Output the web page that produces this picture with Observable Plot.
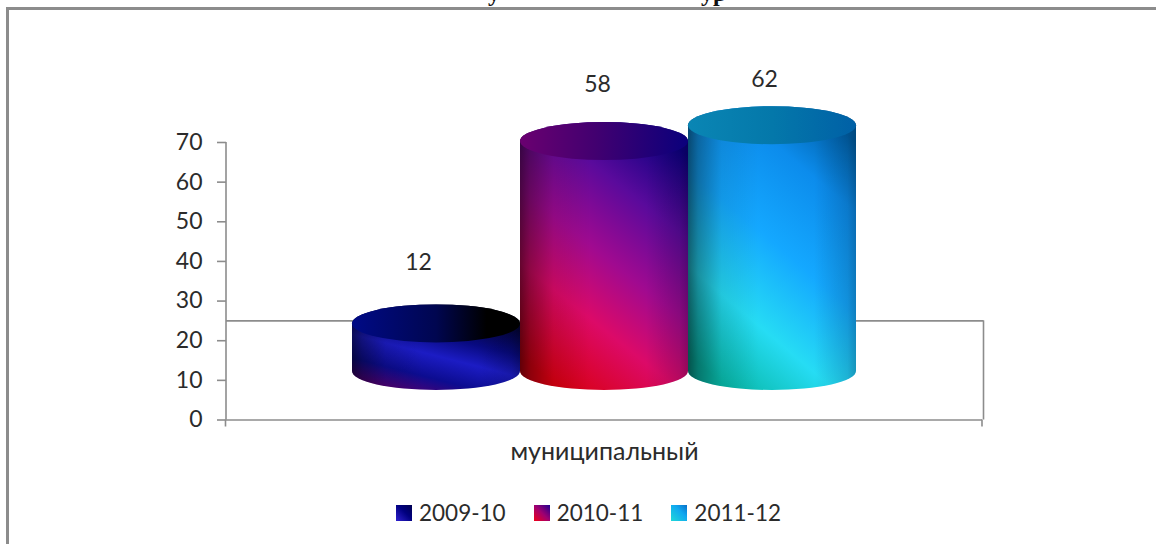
<!DOCTYPE html>
<html><head><meta charset="utf-8">
<script src="https://cdn.jsdelivr.net/npm/d3@7"></script>
<script src="https://cdn.jsdelivr.net/npm/@observablehq/plot@0.6"></script>
<style>
html,body{margin:0;padding:0;background:#fff;overflow:hidden;width:1156px;height:544px}
body{position:relative;font-family:Lato,sans-serif;color:#2b2b2b}
#frame{position:absolute;left:6px;top:7px;width:1200px;height:600px;border-left:3px solid #8c8c8c;border-top:3px solid #8c8c8c;box-sizing:border-box}
.clip{position:absolute;font:bold 24px "Liberation Serif",serif;color:#111;white-space:pre;line-height:24px}
#chart{position:absolute;left:0;top:0}
#legend{position:absolute;top:497px;left:396px;display:flex;font-size:22.5px;line-height:32px}
#legend .it{display:flex;align-items:center;margin-right:28px}
#legend i{display:block;width:16px;height:16px;margin-right:7px}
</style></head><body>
<div id="frame"></div>
<div class="clip" style="left:488px;top:-19px">у</div>
<div class="clip" style="left:701px;top:-19px">ур</div>
<div id="chart"></div>
<div id="legend"></div>
<script>
const category = "муниципальный";
const years = ["2009-10", "2010-11", "2011-12"];
const values = [12, 58, 62];
const yTicks = [0, 10, 20, 30, 40, 50, 60, 70];
const floorBack = 25;

const rows = years.map((year, i) => ({year, value: values[i]}));

// Appearance only
const looks = [
  {id:"a", body:[[0,"#500070"],[.2,"#0c0c90"],[.42,"#1c1cc4"],[.62,"#080a80"],[1,"#000010"]],
   cap:[[0,"#000a86"],[.5,"#000650"],[.8,"#000000"],[1,"#000000"]],
   swatch:"linear-gradient(45deg,#3020d0,#000080 55%,#000050)"},
  {id:"b", body:[[0,"#d80010"],[.28,"#dc0a68"],[.5,"#a00a90"],[.75,"#5a0a9c"],[1,"#0c0080"]],
   cap:[[0,"#6a0070"],[.45,"#420070"],[1,"#0a007c"]],
   swatch:"linear-gradient(45deg,#f00018,#a00070 50%,#200090)"},
  {id:"c", body:[[0,"#08b8a8"],[.25,"#26dcf4"],[.52,"#14a8ff"],[.8,"#0c8cec"],[1,"#0060a8"]],
   cap:[[0,"#0a86b4"],[.5,"#0478aa"],[1,"#0060a6"]],
   swatch:"linear-gradient(45deg,#20d8d8,#10a8f0 60%,#0870c8)"}
];
const shade = [[0,"#000",.55],[.06,"#000",.35],[.2,"#000",.1],[.42,"#000",0],[.75,"#000",0],[.95,"#000",.14],[1,"#000",.25]];

const defs = () => {
  const s = d3.create("svg:defs");
  const grad = (id, stops, x1, y1, x2, y2) => {
    const g = s.append("linearGradient").attr("id", id).attr("x1",x1).attr("y1",y1).attr("x2",x2).attr("y2",y2);
    for (const [o,c,a] of stops) g.append("stop").attr("offset",o).attr("stop-color",c).attr("stop-opacity",a ?? 1);
  };
  for (const l of looks) {
    grad("body-"+l.id, l.body, 0.25, 1, 0.75, 0);
    grad("cap-"+l.id, l.cap, 0, 0, 1, 0);
  }
  grad("shade", shade, 0, 0, 1, 0);
  return s.node();
};

const furniture = (index, {y}, values, {width, marginRight, marginLeft}) => {
  const g = d3.create("svg:g").attr("stroke","#8c8c8c").attr("stroke-width",1.6).attr("fill","none");
  const R = width - marginRight;
  g.append("path").attr("d", `M${marginLeft},${y(70)}V${y(0)}`);
  g.append("path").attr("d", `M${R+1.5},${y(floorBack)}V${y(0)}`);
  g.append("path").attr("d", `M${R},${y(0)}v7M${marginLeft-.5},${y(0)}v7`);
  return g.node();
};

const rise = -48.5, ry = 19, rx = 84;
const cyl = {x:"year", y1:() => 0, y2:"value", dy:rise, rx, ry, insetTop:-ry, insetBottom:-ry};

const marks = [
  defs,
  Plot.ruleY([floorBack], {stroke:"#8c8c8c", strokeWidth:1.6, insetRight:-1.5}),
  Plot.ruleY([0], {stroke:"#8c8c8c", strokeWidth:1.6}),
  Plot.axisY({ticks:yTicks, tickSize:9, tickPadding:15, fontSize:23, label:null, stroke:"#8c8c8c", strokeWidth:1.6, fill:"#2b2b2b", tickFormat:d3.format("d")}),
  furniture
];
rows.forEach((row, i) => {
  const l = looks[i];
  marks.push(
    Plot.barY([row], {...cyl, fill:`url(#body-${l.id})`}),
    Plot.barY([row], {...cyl, fill:"url(#shade)"}),
    Plot.barY([row], {x:"year", y1:"value", y2:"value", dy:rise, rx, ry, insetTop:-ry, insetBottom:-ry, fill:`url(#cap-${l.id})`})
  );
});
const nudges = [[-18,-61],[-7,-57],[-8,-46]];
rows.forEach((row, i) => marks.push(
  Plot.text([row], {x:"year", y:"value", text:d => String(d.value), dx:nudges[i][0], dy:rise + nudges[i][1], fontSize:23, fill:"#2b2b2b"})
));
marks.push(Plot.text([category], {frameAnchor:"bottom", dy:32, text:d => d, fontSize:25, fill:"#2b2b2b", lineAnchor:"middle"}));

const plot = Plot.plot({
  width:1156, height:490,
  marginLeft:226, marginRight:174, marginTop:142, marginBottom:70.5,
  style:{fontFamily:"Lato, sans-serif", background:"transparent", overflow:"visible"},
  x:{domain:years, paddingInner:0, paddingOuter:.75, axis:null},
  y:{domain:[0,70], axis:null},
  marks
});
document.getElementById("chart").append(plot);

const legend = document.getElementById("legend");
years.forEach((y, i) => {
  const it = document.createElement("div"); it.className = "it";
  const sw = document.createElement("i"); sw.style.background = looks[i].swatch;
  it.append(sw, document.createTextNode(y));
  legend.append(it);
});
</script></body></html>
